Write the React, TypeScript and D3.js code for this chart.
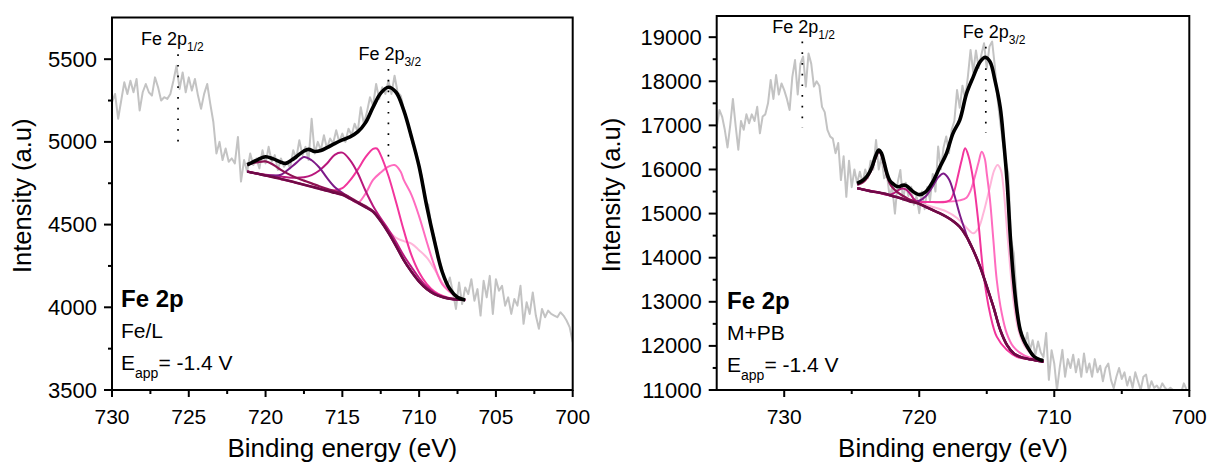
import React from 'react';
import * as d3 from 'd3';

type Pt = [number, number];
const FONT = '"Liberation Sans", Arial, Helvetica, sans-serif';

// ---------------- Left panel (Fe/L) ----------------
const leftRawStart = 730;
const leftRawStep = 0.2;
const leftRaw: number[] = [
  5240, 5290, 5140, 5250, 5360,
  5290, 5370, 5300, 5380, 5190,
  5300, 5350, 5300, 5280, 5390,
  5330, 5250, 5270, 5260, 5290,
  5370, 5460, 5320, 5420, 5300,
  5390, 5310, 5380, 5280, 5200,
  5290, 5350, 5230, 5120, 4930,
  5000, 4890, 4960, 4880, 4900,
  4870, 5030, 4760, 4890, 4820,
  4930, 4860, 4900, 4840, 4950,
  4870, 4970, 4880, 4920, 4830,
  4900, 4850, 4880, 4840, 4950,
  4900, 5010, 4920, 4970, 4890,
  5140, 4930, 5000, 4950, 5040,
  4960, 5020, 4990, 5070, 5000,
  5050, 5000, 5080, 5040, 5110,
  5060, 5210, 5110, 5180, 5270,
  5220, 5350, 5260, 5330, 5290,
  5370, 5290, 5400, 5300, 5280,
  5200, 5130, 5060, 4980, 4940,
  4850, 4780, 4640, 4620, 4480,
  4420, 4300, 4260, 4190, 4120,
  4180, 4090, 3990, 4150, 4020,
  4120, 4080, 4170, 4040, 4110,
  3950, 4160, 4060, 4190, 3960,
  4170, 4100, 4130, 4010, 4060,
  3960, 4050, 4010, 4130, 3900,
  4030, 3960, 4090, 3950, 3870,
  3990, 3940, 3980, 3960, 3950,
  3940, 3970, 3950, 3920, 3880,
  3790,
];
const leftBg: Pt[] = [
  [721.2, 4821], [721.0, 4817], [720.5, 4807], [720.0, 4797], [719.5, 4787], [719.0, 4776],
  [718.5, 4765], [718.0, 4753], [717.5, 4741], [717.0, 4729], [716.5, 4717], [716.0, 4704],
  [715.5, 4692], [715.0, 4680], [714.5, 4657], [714.0, 4632], [713.5, 4606], [713.0, 4578],
  [712.5, 4520], [712.0, 4450], [711.5, 4370], [711.0, 4285], [710.5, 4215], [710.0, 4155],
  [709.5, 4110], [709.0, 4080], [708.5, 4062], [708.0, 4052], [707.5, 4047], [707.0, 4044],
];
const leftMaroon: Pt[] = [
  [721.2, 4861], [721.0, 4867], [720.5, 4878], [720.0, 4882], [719.5, 4862], [719.0, 4831],
  [718.5, 4805], [718.0, 4783], [717.5, 4766], [717.0, 4749], [716.5, 4732], [716.0, 4716],
  [715.5, 4702], [715.0, 4688], [714.0, 4637], [713.0, 4581], [712.0, 4452],
];
const leftPurple: Pt[] = [
  [720.0, 4797], [719.5, 4797], [719.0, 4801], [718.5, 4835], [718.0, 4873], [717.5, 4909],
  [717.0, 4889], [716.5, 4845], [716.0, 4782], [715.5, 4727], [715.0, 4692], [714.5, 4662], [714.0, 4632],
];
const leftMagenta: Pt[] = [
  [720.0, 4802], [719.0, 4791], [718.5, 4785], [718.0, 4783], [717.5, 4786], [717.0, 4799],
  [716.5, 4827], [716.0, 4869], [715.5, 4922], [715.0, 4935], [714.5, 4890], [714.0, 4812],
  [713.5, 4706], [713.0, 4613], [712.5, 4538], [712.0, 4470], [711.5, 4395], [711.0, 4313],
  [710.5, 4243], [710.0, 4177], [709.5, 4124], [709.0, 4087], [708.5, 4065], [708.0, 4052],
];
const leftHotPink: Pt[] = [
  [718.0, 4753], [716.5, 4719], [716.0, 4709], [715.5, 4707], [715.0, 4720], [714.5, 4767],
  [714.0, 4832], [713.5, 4906], [713.0, 4958], [712.75, 4960], [712.5, 4920], [712.0, 4795],
  [711.5, 4635], [711.0, 4465], [710.5, 4315], [710.0, 4210], [709.5, 4140], [709.0, 4095],
  [708.5, 4070], [708.0, 4055], [707.5, 4048], [707.0, 4044],
];
const leftLightPink: Pt[] = [
  [714.0, 4632], [713.5, 4686], [713.0, 4770], [712.5, 4815], [712.0, 4850], [711.6, 4860],
  [711.2, 4820], [711.0, 4770], [710.5, 4680], [710.0, 4550], [709.5, 4395], [709.0, 4250],
  [708.5, 4140], [708.0, 4094], [707.5, 4060], [707.0, 4044],
];
const leftPale: Pt[] = [
  [713.0, 4578], [712.5, 4525], [712.0, 4465], [711.5, 4420], [711.0, 4400], [710.5, 4385],
  [710.0, 4345], [709.5, 4300], [709.0, 4230], [708.5, 4150], [708.0, 4092], [707.5, 4060], [707.0, 4044],
];
const leftEnvelope: Pt[] = [
  [721.2, 4862], [721.0, 4870], [720.5, 4893], [720.0, 4910], [719.5, 4897], [719.0, 4877],
  [718.7, 4870], [718.3, 4890], [718.0, 4910], [717.5, 4945], [717.2, 4955], [716.8, 4942],
  [716.4, 4948], [716.0, 4965], [715.5, 4990], [715.0, 5012], [714.5, 5030], [714.0, 5060],
  [713.5, 5115], [713.0, 5210], [712.5, 5295], [712.0, 5330], [711.5, 5300], [711.0, 5190],
  [710.5, 5030], [710.0, 4850], [709.5, 4610], [709.0, 4400], [708.5, 4215], [708.0, 4110],
  [707.5, 4060], [707.0, 4044],
];

// ---------------- Right panel (M+PB) ----------------
const rightRawStart = 735;
const rightRawStep = 0.2;
const rightRaw: number[] = [
  16950, 17350, 17200, 16900, 16500,
  17000, 17600, 17000, 16450, 17100,
  16900, 17250, 17050, 17250, 17100,
  17420, 16820, 17200, 17250, 17500,
  18030, 17600, 18140, 17700, 17950,
  17800, 17600, 17350, 18100, 18480,
  17700, 18400, 18560, 17880, 18630,
  18400, 17880, 18000, 17900, 17420,
  17300, 16900, 16750, 16700, 16370,
  16600, 15760, 16300, 15380, 16200,
  15600, 16000, 15690, 15950, 15700,
  16000, 15800, 16200, 16000, 16670,
  16000, 16300, 15800, 15900, 15400,
  15600, 15000, 15700, 15990, 15300,
  15700, 15400, 15610, 15200, 15400,
  15010, 15500, 15100, 15600, 15300,
  15900, 15500, 16520, 16000, 16500,
  16750, 16370, 16900, 17100, 17800,
  17400, 17900, 17600, 18100, 18710,
  18200, 18700, 18300, 18600, 18860,
  18300, 18790, 18900, 18330, 17600,
  17050, 16600, 16200, 15910, 14400,
  14100, 13190, 12500, 12290, 12000,
  12300, 11900, 12130, 11800, 12100,
  11850, 11750, 12290, 11230, 11900,
  11600, 11000, 11500, 11910, 11300,
  11700, 11500, 11800, 11400, 11700,
  11300, 11830, 11400, 11600, 11300,
  11700, 11400, 11550, 11200, 11500,
  11600, 11230, 11040, 11300, 11500,
  11250, 11400, 11100, 11300, 11050,
  11400, 11200, 11000, 11300, 11350,
  11000, 11200, 11050, 11100, 11000,
  11150, 11050, 11000, 11050, 11000,
  10950, 11000, 10950, 11150, 11000,
  10950,
];
const rightBg: Pt[] = [
  [724.6, 15574], [724.5, 15570], [724.0, 15535], [723.5, 15500], [723.0, 15480], [722.5, 15450],
  [722.0, 15400], [721.5, 15360], [721.0, 15310], [720.5, 15260], [720.0, 15220], [719.5, 15150],
  [719.0, 15080], [718.5, 15010], [718.0, 14930], [717.5, 14830], [717.0, 14700], [716.5, 14480],
  [716.0, 14170], [715.5, 13800], [715.0, 13350], [714.5, 12880], [714.0, 12360], [713.5, 12020],
  [713.0, 11830], [712.5, 11750], [712.0, 11710], [711.5, 11680], [711.0, 11650], [710.8, 11642],
];
const rightMaroon: Pt[] = [
  [724.6, 15650], [724.3, 15690], [724.0, 15760], [723.75, 15870], [723.5, 16020], [723.25, 16250],
  [723.0, 16400], [722.8, 16330], [722.6, 16120], [722.4, 15880], [722.2, 15700], [722.0, 15600],
  [721.6, 15480], [721.2, 15400], [720.8, 15330], [720.4, 15280], [720.0, 15220],
];
const rightMagenta: Pt[] = [
  [722.6, 15440], [722.2, 15430], [721.9, 15460], [721.6, 15520], [721.3, 15570], [721.0, 15550],
  [720.7, 15460], [720.4, 15330], [720.0, 15220],
];
const rightPurple: Pt[] = [
  [721.0, 15310], [720.5, 15265], [720.0, 15290], [719.5, 15400], [719.0, 15620], [718.6, 15820],
  [718.2, 15910], [717.8, 15780], [717.4, 15420], [717.0, 14980], [716.6, 14610], [716.3, 14340], [716.0, 14170],
];
const rightHotPink: Pt[] = [
  [724.6, 15574], [723.0, 15480], [722.0, 15400], [721.0, 15320], [720.0, 15270], [719.0, 15260],
  [718.0, 15270], [717.7, 15310], [717.4, 15520], [717.1, 15900], [716.85, 16220], [716.6, 16480],
  [716.35, 16300], [716.0, 15760], [715.62, 14800], [715.25, 13650], [714.76, 12740], [714.26, 12210],
  [713.52, 11910], [712.78, 11755], [711.5, 11685], [710.8, 11650],
];
const rightPink: Pt[] = [
  [724.6, 15574], [722.0, 15400], [721.0, 15320], [720.0, 15270], [719.0, 15260], [718.0, 15270],
  [717.0, 15300], [716.5, 15360], [716.2, 15520], [715.9, 15820], [715.6, 16170], [715.37, 16400],
  [715.15, 16250], [715.0, 15914], [714.76, 15308], [714.51, 14400], [714.26, 13494], [713.89, 12740],
  [713.52, 12285], [713.03, 11982], [712.29, 11794], [711.5, 11700], [710.8, 11650],
];
const rightLightPink: Pt[] = [
  [724.6, 15574], [722.0, 15400], [721.0, 15310], [720.0, 15230], [719.0, 15150], [718.0, 15050],
  [717.2, 14900], [716.5, 14680], [716.0, 14553], [715.6, 14680], [715.25, 15007], [714.76, 15610],
  [714.45, 15980], [714.2, 16100], [713.95, 15980], [713.77, 15610], [713.52, 14703], [713.27, 13796],
  [713.03, 13040], [712.66, 12361], [712.16, 11982], [711.3, 11718], [710.8, 11664],
];
const rightEnvelope: Pt[] = [
  [724.6, 15686], [724.3, 15730], [724.0, 15800], [723.75, 15900], [723.5, 16060], [723.25, 16290],
  [723.0, 16440], [722.8, 16370], [722.6, 16160], [722.4, 15920], [722.2, 15760], [722.0, 15690],
  [721.75, 15630], [721.5, 15610], [721.25, 15640], [721.0, 15640], [720.75, 15580], [720.5, 15510],
  [720.25, 15460], [720.0, 15430], [719.5, 15500], [719.0, 15720], [718.5, 16040], [718.0, 16350],
  [717.5, 16820], [717.0, 17120], [716.5, 17720], [716.0, 18100], [715.5, 18440], [715.1, 18545],
  [714.75, 18440], [714.4, 18030], [714.0, 17400], [713.75, 16650], [713.5, 15750], [713.25, 14450],
  [713.0, 13450], [712.75, 12760], [712.5, 12330], [712.25, 12120], [712.0, 11980], [711.5, 11760],
  [711.0, 11680], [710.8, 11664],
];

// tick values
const leftXMajor = [730, 725, 720, 715, 710, 705, 700];
const leftXMinor = [727.5, 722.5, 717.5, 712.5, 707.5, 702.5];
const leftYMajor = [3500, 4000, 4500, 5000, 5500];
const leftYMinor = [3750, 4250, 4750, 5250];
const rightXMajor = [730, 720, 710, 700];
const rightXMinor = [725, 715, 705];
const rightYMajor = [11000, 12000, 13000, 14000, 15000, 16000, 17000, 18000, 19000];
const rightYMinor = [11500, 12500, 13500, 14500, 15500, 16500, 17500, 18500];

const COL = {
  bg: '#6f0a46',
  maroon: '#8e1253',
  purple: '#7d1a88',
  magenta: '#b8177c',
  hot: '#f2359c',
  pink: '#ff6cbf',
  pale: '#ffb6da',
};

function withBg(bg: Pt[], pts: Pt[]): Pt[] {
  const first = pts[0][0];
  const last = pts[pts.length - 1][0];
  return [
    ...bg.filter((p) => p[0] > first + 1e-6),
    ...pts,
    ...bg.filter((p) => p[0] < last - 1e-6),
  ];
}

interface Comp { pts: Pt[]; color: string; width: number; }
interface Marker { e: number; v0: number; v1: number; sub: string; dx: number; }

interface PanelProps {
  id: string;
  left: number; right: number; top: number; bottom: number;
  xDomain: [number, number];
  yDomain: [number, number];
  xMajor: number[]; xMinor: number[]; yMajor: number[]; yMinor: number[];
  raw: number[]; rawStart: number; rawStep: number;
  bg: Pt[]; comps: Comp[]; envelope: Pt[];
  markers: Marker[];
  sample: string;
  textX: number; textY: number;
  yTitleX: number;
}

function Panel(p: PanelProps) {
  const x = d3.scaleLinear().domain(p.xDomain).range([p.left, p.right]);
  const y = d3.scaleLinear().domain(p.yDomain).range([p.bottom, p.top]);
  const rawLine = d3
    .line<number>()
    .x((_, i) => x(p.rawStart - i * p.rawStep))
    .y((v) => y(v));
  const fit = d3
    .line<Pt>()
    .x((d) => x(d[0]))
    .y((d) => y(d[1]))
    .curve(d3.curveCatmullRom.alpha(0.5));
  const cx = (p.left + p.right) / 2;
  const cy = (p.top + p.bottom) / 2;
  return (
    <g fontFamily={FONT} fill="#000">
      <defs>
        <clipPath id={p.id}>
          <rect x={p.left} y={p.top} width={p.right - p.left} height={p.bottom - p.top} />
        </clipPath>
      </defs>
      <g clipPath={`url(#${p.id})`}>
        <path d={rawLine(p.raw) || ''} fill="none" stroke="#c3c3c3" strokeWidth={2} strokeLinejoin="round" />
      </g>
      {p.markers.map((m, i) => (
        <g key={i}>
          <line x1={x(m.e)} x2={x(m.e)} y1={y(m.v0)} y2={y(m.v1)} stroke="#000" strokeWidth={1.7} strokeDasharray="1.7 9" />
          <text x={x(m.e) + m.dx} y={y(m.v0) - 9} fontSize={18}>
            Fe 2p<tspan fontSize={12} dy={6}>{m.sub}</tspan>
          </text>
        </g>
      ))}
      {p.comps.map((c, i) => (
        <path key={i} d={fit(withBg(p.bg, c.pts)) || ''} fill="none" stroke={c.color} strokeWidth={c.width} />
      ))}
      <path d={fit(p.bg) || ''} fill="none" stroke={COL.bg} strokeWidth={2.6} />
      <path d={fit(p.envelope) || ''} fill="none" stroke="#000" strokeWidth={3.6} />
      {/* frame */}
      <rect x={p.left} y={p.top} width={p.right - p.left} height={p.bottom - p.top} fill="none" stroke="#000" strokeWidth={2} />
      {/* x ticks */}
      {p.xMajor.map((t) => (
        <g key={'xm' + t}>
          <line x1={x(t)} x2={x(t)} y1={p.bottom} y2={p.bottom + 7} stroke="#000" strokeWidth={2} />
          <text x={x(t)} y={p.bottom + 34} fontSize={21} textAnchor="middle">{t}</text>
        </g>
      ))}
      {p.xMinor.map((t) => (
        <line key={'xn' + t} x1={x(t)} x2={x(t)} y1={p.bottom} y2={p.bottom + 4} stroke="#000" strokeWidth={2} />
      ))}
      {p.yMajor.map((t) => (
        <g key={'ym' + t}>
          <line x1={p.left - 8} x2={p.left} y1={y(t)} y2={y(t)} stroke="#000" strokeWidth={2} />
          <text x={p.left - 15} y={y(t) + 7.5} fontSize={22} textAnchor="end">{t}</text>
        </g>
      ))}
      {p.yMinor.map((t) => (
        <line key={'yn' + t} x1={p.left - 4} x2={p.left} y1={y(t)} y2={y(t)} stroke="#000" strokeWidth={2} />
      ))}
      <text x={cx} y={457} fontSize={26} textAnchor="middle">Binding energy (eV)</text>
      <text transform={`translate(${p.yTitleX},${cy - 8}) rotate(-90)`} fontSize={25.5} textAnchor="middle">Intensity (a.u)</text>
      <text x={p.textX} y={p.textY} fontSize={24} fontWeight="bold">Fe 2p</text>
      <text x={p.textX} y={p.textY + 31} fontSize={21}>{p.sample}</text>
      <text x={p.textX} y={p.textY + 63} fontSize={21}>
        E<tspan fontSize={14} dy={8}>app</tspan><tspan dy={-8}>= -1.4 V</tspan>
      </text>
    </g>
  );
}

export default function App() {
  const leftComps: Comp[] = [
    { pts: leftPale, color: COL.pale, width: 2 },
    { pts: leftLightPink, color: COL.pink, width: 2 },
    { pts: leftHotPink, color: COL.hot, width: 2 },
    { pts: leftMagenta, color: COL.magenta, width: 2 },
    { pts: leftPurple, color: COL.purple, width: 2 },
    { pts: leftMaroon, color: COL.maroon, width: 2.2 },
  ];
  const rightComps: Comp[] = [
    { pts: rightLightPink, color: COL.pale, width: 2 },
    { pts: rightPink, color: COL.pink, width: 2 },
    { pts: rightHotPink, color: COL.hot, width: 2 },
    { pts: rightPurple, color: COL.purple, width: 2 },
    { pts: rightMagenta, color: COL.magenta, width: 2 },
    { pts: rightMaroon, color: COL.maroon, width: 2.4 },
  ];
  return (
    <svg width={1212} height={464} style={{ position: 'absolute', left: 0, top: 0, background: '#fff' }}>
      <rect x={0} y={0} width={1212} height={464} fill="#fff" />
      <Panel
        id="clipL"
        left={112} right={572.7} top={17.5} bottom={390}
        xDomain={[730, 700]} yDomain={[3500, 5752]}
        xMajor={leftXMajor} xMinor={leftXMinor} yMajor={leftYMajor} yMinor={leftYMinor}
        raw={leftRaw} rawStart={leftRawStart} rawStep={leftRawStep}
        bg={leftBg} comps={leftComps} envelope={leftEnvelope}
        markers={[
          { e: 725.7, v0: 5530, v1: 5000, sub: '1/2', dx: -37 },
          { e: 712.0, v0: 5440, v1: 4900, sub: '3/2', dx: -30 },
        ]}
        sample="Fe/L"
        textX={121} textY={307}
        yTitleX={31}
      />
      <Panel
        id="clipR"
        left={716.7} right={1189.3} top={16} bottom={390}
        xDomain={[735, 700]} yDomain={[11000, 19480]}
        xMajor={rightXMajor} xMinor={rightXMinor} yMajor={rightYMajor} yMinor={rightYMinor}
        raw={rightRaw} rawStart={rightRawStart} rawStep={rightRawStep}
        bg={rightBg} comps={rightComps} envelope={rightEnvelope}
        markers={[
          { e: 728.66, v0: 18900, v1: 16950, sub: '1/2', dx: -30 },
          { e: 715.07, v0: 18780, v1: 16830, sub: '3/2', dx: -23 },
        ]}
        sample="M+PB"
        textX={727} textY={309}
        yTitleX={620}
      />
    </svg>
  );
}
